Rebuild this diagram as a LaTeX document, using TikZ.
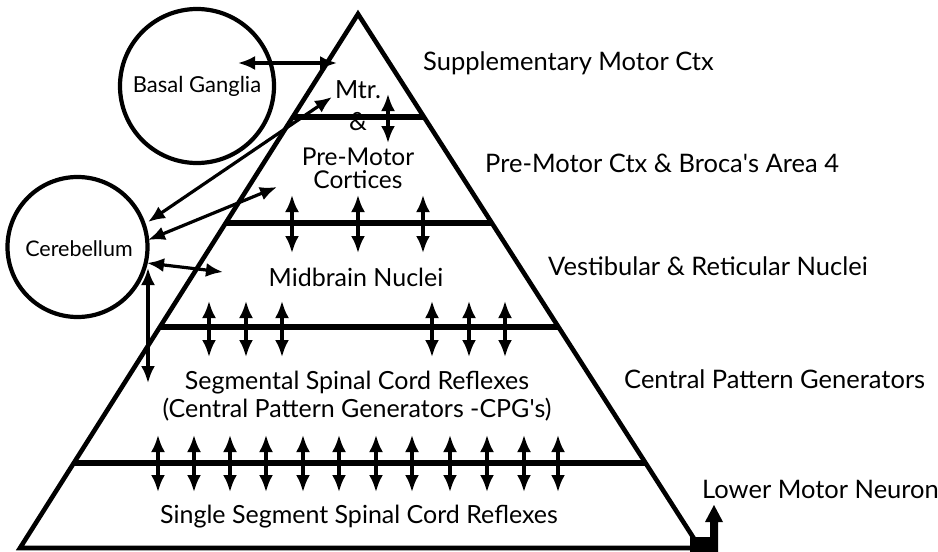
\documentclass[tikz,border=0pt]{standalone}
\usepackage{fontspec}
\setmainfont{Lato}
\usetikzlibrary{arrows.meta,calc}
\begin{document}
\begin{tikzpicture}[x=1pt,y=-1pt,
  edge/.style={line width=4.6pt},
  tier/.style={line width=5.2pt},
  dbl/.style={line width=3.2pt,{Latex[length=17pt,width=14pt]}-{Latex[length=17pt,width=14pt]}},
  lbl/.style={font=\fontsize{25}{22}\selectfont, inner sep=0pt, align=center},
  side/.style={font=\fontsize{25.5}{22}\selectfont, inner sep=0pt, anchor=west},
  circ/.style={circle, draw, line width=4.2pt, inner sep=0pt, font=\fontsize{22}{24}\selectfont}]
\useasboundingbox (0,0) rectangle (938,552);
% triangle
\coordinate (apex) at (358,14);
\coordinate (bl) at (20,548);
\coordinate (br) at (700,548);
\draw[edge, line join=miter] (apex) -- (br) -- (bl) -- cycle;
% tiers
\foreach \t [count=\i] in {0.1929,0.3914,0.5861,0.8408}{
  \coordinate (L\i) at ($(apex)!\t!(bl)$);
  \coordinate (R\i) at ($(apex)!\t!(br)$);
  \draw[tier] (L\i) -- (R\i);
}
% circles
\node[circ, minimum size=154pt] (bg) at (197,86) {Basal Ganglia};
\node[circ, minimum size=140pt] (cb) at (77.5,247) {};
\node[font=\fontsize{21.5}{24}\selectfont, inner sep=0pt] (cbt) at (79,249) {Cerebellum};
% texts inside pyramid
\node[lbl] (mtr) at (358,90) {Mtr.};
\node[lbl] (amp) at (358,122) {\&};
\node[lbl, font=\fontsize{24.5}{22}\selectfont] (pm1) at (358,157) {Pre-Motor};
\node[lbl, font=\fontsize{24.5}{22}\selectfont] (pm2) at (358,180) {Cortices};
\node[lbl] (mbn) at (356,277) {Midbrain Nuclei};
\node[lbl] (seg1) at (357,383) {Segmental Spinal Cord Reflexes};
\node[lbl] (seg2) at (357,410) {(Central Pattern Generators -CPG\textquotesingle s)};
\node[lbl] (ssr) at (359,517) {Single Segment Spinal Cord Reflexes};
% side labels
\node[side] (s1) at (423,63) {Supplementary Motor Ctx};
\node[side] (s2) at (485,163) {Pre-Motor Ctx \& Broca\textquotesingle s Area 4};
\node[side] (s3) at (548,266) {Vestibular \& Reticular Nuclei};
\node[side] (s4) at (624,379) {Central Pattern Generators};
\node[side] (s5) at (702,489) {Lower Motor Neuron};
% arrows basal ganglia / mtr
\coordinate (bgA) at (238,63);
\coordinate (smA) at (337,63);
\draw[dbl] (bgA) -- (smA);
\coordinate (mtrT) at (388,94);
\coordinate (mtrB) at (388,143);
\draw[dbl] (mtrT) -- (mtrB);
% cerebellum arrows
\coordinate (cbA) at (148,222);
\coordinate (mtrA) at (332,97);
\draw[dbl] (cbA) -- (mtrA);
\coordinate (cbB) at (148,240);
\coordinate (pmB) at (277,187);
\draw[dbl] (cbB) -- (pmB);
\coordinate (cbC) at (147,263);
\coordinate (mbC) at (223,272);
\draw[dbl] (cbC) -- (mbC);
\coordinate (cbD) at (148,268);
\coordinate (sgD) at (148,383);
\draw[dbl] (cbD) -- (sgD);
% tier arrows
\foreach \x [count=\i] in {292,358,423}{
  \coordinate (p\i t) at (\x,195);
  \coordinate (p\i b) at (\x,253);
  \draw[dbl] (p\i t) -- (p\i b);
}
\foreach \x [count=\i] in {209,246,282,432,469,505}{
  \coordinate (m\i t) at (\x,301);
  \coordinate (m\i b) at (\x,357);
  \draw[dbl] (m\i t) -- (m\i b);
}
\foreach \x [count=\i] in {158,194,230,266,303,339,376,412,450,487,524,558}{
  \coordinate (s\i t) at (\x,435);
  \coordinate (s\i b) at (\x,492);
  \draw[dbl] (s\i t) -- (s\i b);
}
% lower motor neuron output
\fill (690,552) -- (690,537) -- (710,537) -- (710,522) -- (705,522) -- (714,505)
  -- (723,522) -- (718,522) -- (718,552) -- cycle;
\end{tikzpicture}
\end{document}
